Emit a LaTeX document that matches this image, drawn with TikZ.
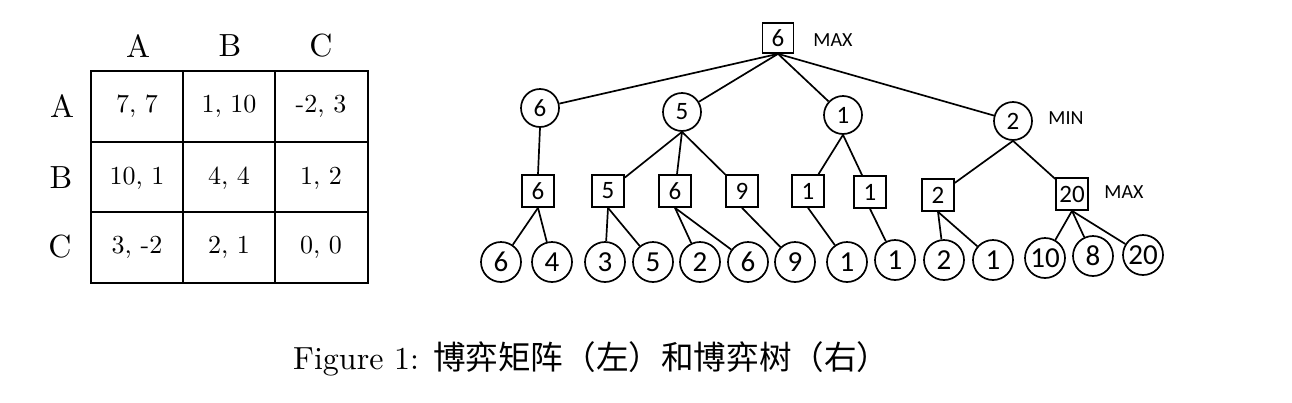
\documentclass[tikz,border=0pt]{standalone}
\usepackage{fontspec}
\setmainfont{lmroman10-regular.otf}
\newfontfamily\treefont{Carlito}
\newfontfamily\cjk{Noto Sans CJK SC}
\begin{document}
\begin{tikzpicture}[x=1pt,y=-1pt,
  sq/.style={draw,line width=1.7pt,rectangle,minimum width=32pt,minimum height=32pt,inner sep=0pt,font=\treefont\fontsize{25}{25}\selectfont},
  ci/.style={draw,line width=1.7pt,circle,minimum size=38pt,inner sep=0pt,font=\treefont\fontsize{25}{25}\selectfont},
  lf/.style={draw,line width=1.7pt,circle,minimum size=40pt,inner sep=0pt,font=\treefont\fontsize{29}{29}\selectfont},
  lbl/.style={font=\treefont\fontsize{20}{20}\selectfont},
  edge/.style={line width=1.7pt},
  cell/.style={font=\fontsize{26}{30}\selectfont},
  hdr/.style={font=\fontsize{32}{36}\selectfont},
  grid/.style={line width=1.3pt}]
\useasboundingbox (0,0) rectangle (1292,402);
% ---- table ----
\draw[grid] (91,71) rectangle (368,283);
\draw[grid] (183,71) -- (183,283);
\draw[grid] (275,71) -- (275,283);
\draw[grid] (91,142) -- (368,142);
\draw[grid] (91,212) -- (368,212);
\node[hdr] (hA) at (138,46) {A};
\node[hdr] (hB) at (230,46) {B};
\node[hdr] (hC) at (321,46) {C};
\node[hdr] (rA) at (62,106) {A};
\node[hdr] (rB) at (61,178) {B};
\node[hdr] (rC) at (60,247) {C};
\node[cell] (c11) at (137,106) {7, 7};
\node[cell] (c12) at (229,106) {1, 10};
\node[cell] (c13) at (321,106) {-2, 3};
\node[cell] (c21) at (137,178) {10, 1};
\node[cell] (c22) at (229,178) {4, 4};
\node[cell] (c23) at (321,178) {1, 2};
\node[cell] (c31) at (137,247) {3, -2};
\node[cell] (c32) at (229,247) {2, 1};
\node[cell] (c33) at (321,247) {0, 0};
% ---- tree ----
\node[sq,minimum width=31pt,minimum height=30pt] (root) at (778,38) {6};
\node[lbl] (tmax) at (833,40) {MAX};
\node[ci] (m6) at (540,108) {6};
\node[ci] (m5) at (682,112) {5};
\node[ci] (m1) at (843,115) {1};
\node[ci] (m2) at (1013,121) {2};
\node[lbl] (tmin) at (1066,118) {MIN};
\node[sq] (s6a) at (538,191) {6};
\node[sq] (s5) at (608,191) {5};
\node[sq] (s6b) at (675,191) {6};
\node[sq] (s9) at (742,191) {9};
\node[sq] (s1a) at (808,191) {1};
\node[sq] (s1b) at (870,192) {1};
\node[sq] (s2) at (938,195) {2};
\node[sq] (s20) at (1072,194) {20};
\node[lbl] (tmax2) at (1124,192) {MAX};
\node[lf] (l6) at (501,262) {6};
\node[lf] (l4) at (552,262) {4};
\node[lf] (l3) at (605,262) {3};
\node[lf] (l5) at (653,262) {5};
\node[lf] (l2) at (700,262) {2};
\node[lf] (l6b) at (748,262) {6};
\node[lf] (l9) at (795,262) {9};
\node[lf] (l1) at (847,262) {1};
\node[lf] (l1b) at (895,260) {1};
\node[lf] (l2b) at (944,260) {2};
\node[lf] (l1c) at (993,260) {1};
\node[lf] (l10) at (1045,258) {10};
\node[lf] (l8) at (1093,256) {8};
\node[lf] (l20) at (1143,255) {20};
\foreach \c in {m6,m5,m1,m2} \draw[edge] (root.south) -- (\c);
\draw[edge] (m6.south) -- (s6a.north);
\foreach \c in {s5,s6b,s9} \draw[edge] (m5.south) -- (\c);
\foreach \c in {s1a,s1b} \draw[edge] (m1.south) -- (\c);
\foreach \c in {s2,s20} \draw[edge] (m2.south) -- (\c);
\foreach \c in {l6,l4} \draw[edge] (s6a.south) -- (\c);
\foreach \c in {l3,l5} \draw[edge] (s5.south) -- (\c);
\foreach \c in {l2,l6b} \draw[edge] (s6b.south) -- (\c);
\draw[edge] (s9.south) -- (l9);
\draw[edge] (s1a.south) -- (l1);
\draw[edge] (s1b.south) -- (l1b);
\foreach \c in {l2b,l1c} \draw[edge] (s2.south) -- (\c);
\foreach \c in {l10,l8,l20} \draw[edge] (s20.south) -- (\c);
% ---- caption ----
\node[anchor=base west,inner sep=0pt,font=\fontsize{32}{36}\selectfont] (cap) at (293,369) {Figure 1:\hspace{14pt}{\cjk\fontsize{32.6}{36}\selectfont 博弈矩阵（左）和博弈树（右）}};
\end{tikzpicture}
\end{document}
